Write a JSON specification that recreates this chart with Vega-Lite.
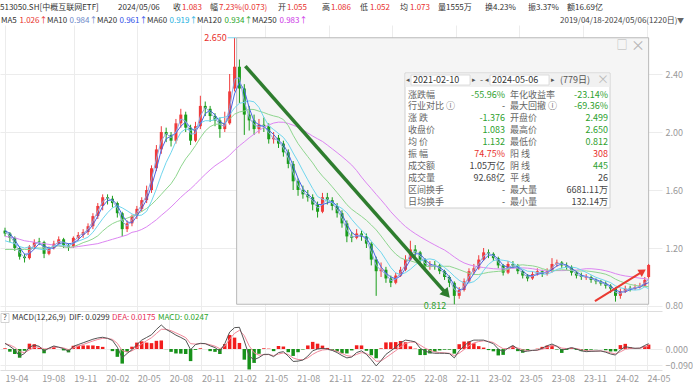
{
"$schema": "https://vega.github.io/schema/vega-lite/v6.json",
"padding": 0,
"autosize": {"type": "pad"},
"background": "white",
"spacing": 0,
"config": {
  "view": {"stroke": null},
  "font": "Noto Sans CJK SC",
  "concat": {"spacing": 0},
  "axis": {"labelFont": "Noto Sans CJK SC", "labelFontSize": 9, "labelColor": "#9a9a9a", "gridColor": "#ececec", "domain": false, "ticks": false, "title": null}
},
"datasets": {
  "k": [
{"d":"2019-04-18","o":1.32,"h":1.34,"l":1.28,"c":1.30,"m10":1.31,"m20":1.32,"m60":1.25,"m120":1.19,"m250":1.28,"dif":0.032,"dea":0.030,"macd":0.004},
{"d":"2019-05-02","o":1.30,"h":1.31,"l":1.24,"c":1.27,"m10":1.285,"m20":1.30,"m60":1.24,"m120":1.19,"m250":1.275,"dif":0.015,"dea":0.0225,"macd":-0.015},
{"d":"2019-05-16","o":1.27,"h":1.28,"l":1.18,"c":1.20,"m10":1.235,"m20":1.257,"m60":1.23,"m120":1.19,"m250":1.27,"dif":-0.005,"dea":0.009,"macd":-0.028},
{"d":"2019-05-30","o":1.20,"h":1.21,"l":1.12,"c":1.14,"m10":1.17,"m20":1.203,"m60":1.21,"m120":1.19,"m250":1.26,"dif":-0.040,"dea":-0.0155,"macd":-0.049},
{"d":"2019-06-13","o":1.14,"h":1.16,"l":1.10,"c":1.13,"m10":1.135,"m20":1.157,"m60":1.20,"m120":1.19,"m250":1.25,"dif":-0.025,"dea":-0.020,"macd":-0.010},
{"d":"2019-06-27","o":1.13,"h":1.22,"l":1.12,"c":1.21,"m10":1.17,"m20":1.16,"m60":1.208,"m120":1.19,"m250":1.245,"dif":0.010,"dea":-0.005,"macd":0.030},
{"d":"2019-07-11","o":1.21,"h":1.26,"l":1.19,"c":1.24,"m10":1.225,"m20":1.193,"m60":1.198,"m120":1.20,"m250":1.24,"dif":0.022,"dea":0.0085,"macd":0.027},
{"d":"2019-07-25","o":1.245,"h":1.27,"l":1.22,"c":1.24,"m10":1.24,"m20":1.23,"m60":1.193,"m120":1.20,"m250":1.235,"dif":0.015,"dea":0.012,"macd":0.006},
{"d":"2019-08-08","o":1.24,"h":1.25,"l":1.13,"c":1.16,"m10":1.20,"m20":1.213,"m60":1.187,"m120":1.20,"m250":1.23,"dif":-0.012,"dea":0.000,"macd":-0.024},
{"d":"2019-08-22","o":1.16,"h":1.21,"l":1.15,"c":1.20,"m10":1.18,"m20":1.20,"m60":1.197,"m120":1.20,"m250":1.225,"dif":0.005,"dea":0.0025,"macd":0.005},
{"d":"2019-09-05","o":1.20,"h":1.25,"l":1.19,"c":1.23,"m10":1.215,"m20":1.197,"m60":1.213,"m120":1.21,"m250":1.22,"dif":0.017,"dea":0.010,"macd":0.014},
{"d":"2019-09-19","o":1.23,"h":1.28,"l":1.22,"c":1.26,"m10":1.245,"m20":1.23,"m60":1.222,"m120":1.215,"m250":1.215,"dif":0.010,"dea":0.010,"macd":0.000},
{"d":"2019-10-03","o":1.26,"h":1.27,"l":1.20,"c":1.22,"m10":1.24,"m20":1.237,"m60":1.218,"m120":1.208,"m250":1.21,"dif":0.002,"dea":0.006,"macd":-0.008},
{"d":"2019-10-17","o":1.22,"h":1.23,"l":1.18,"c":1.21,"m10":1.215,"m20":1.23,"m60":1.213,"m120":1.203,"m250":1.205,"dif":-0.013,"dea":-0.0035,"macd":-0.019},
{"d":"2019-10-31","o":1.21,"h":1.28,"l":1.20,"c":1.27,"m10":1.24,"m20":1.233,"m60":1.232,"m120":1.209,"m250":1.205,"dif":0.015,"dea":0.006,"macd":0.018},
{"d":"2019-11-14","o":1.27,"h":1.31,"l":1.25,"c":1.29,"m10":1.28,"m20":1.257,"m60":1.247,"m120":1.222,"m250":1.21,"dif":0.025,"dea":0.0155,"macd":0.019},
{"d":"2019-11-28","o":1.29,"h":1.33,"l":1.27,"c":1.31,"m10":1.30,"m20":1.29,"m60":1.26,"m120":1.237,"m250":1.215,"dif":0.035,"dea":0.025,"macd":0.020},
{"d":"2019-12-12","o":1.31,"h":1.37,"l":1.29,"c":1.35,"m10":1.33,"m20":1.317,"m60":1.275,"m120":1.248,"m250":1.22,"dif":0.045,"dea":0.035,"macd":0.020},
{"d":"2019-12-26","o":1.35,"h":1.44,"l":1.33,"c":1.42,"m10":1.385,"m20":1.36,"m60":1.308,"m120":1.263,"m250":1.225,"dif":0.055,"dea":0.045,"macd":0.020},
{"d":"2020-01-09","o":1.42,"h":1.51,"l":1.40,"c":1.49,"m10":1.455,"m20":1.42,"m60":1.355,"m120":1.284,"m250":1.23,"dif":0.062,"dea":0.0535,"macd":0.017},
{"d":"2020-01-23","o":1.49,"h":1.57,"l":1.46,"c":1.55,"m10":1.52,"m20":1.487,"m60":1.402,"m120":1.317,"m250":1.24,"dif":0.066,"dea":0.060,"macd":0.012},
{"d":"2020-02-06","o":1.55,"h":1.57,"l":1.50,"c":1.54,"m10":1.545,"m20":1.527,"m60":1.443,"m120":1.345,"m250":1.25,"dif":0.060,"dea":0.060,"macd":0.000},
{"d":"2020-02-20","o":1.54,"h":1.56,"l":1.48,"c":1.51,"m10":1.525,"m20":1.533,"m60":1.477,"m120":1.368,"m250":1.26,"dif":0.048,"dea":0.054,"macd":-0.012},
{"d":"2020-03-05","o":1.51,"h":1.52,"l":1.41,"c":1.44,"m10":1.475,"m20":1.497,"m60":1.492,"m120":1.383,"m250":1.27,"dif":0.010,"dea":0.032,"macd":-0.044},
{"d":"2020-03-19","o":1.44,"h":1.45,"l":1.28,"c":1.33,"m10":1.385,"m20":1.427,"m60":1.477,"m120":1.393,"m250":1.28,"dif":-0.050,"dea":-0.009,"macd":-0.082},
{"d":"2020-04-02","o":1.33,"h":1.39,"l":1.31,"c":1.37,"m10":1.35,"m20":1.38,"m60":1.457,"m120":1.406,"m250":1.29,"dif":-0.025,"dea":-0.017,"macd":-0.016},
{"d":"2020-04-16","o":1.37,"h":1.43,"l":1.35,"c":1.42,"m10":1.395,"m20":1.373,"m60":1.435,"m120":1.418,"m250":1.308,"dif":-0.004,"dea":-0.0105,"macd":0.013},
{"d":"2020-04-30","o":1.42,"h":1.49,"l":1.40,"c":1.47,"m10":1.445,"m20":1.42,"m60":1.423,"m120":1.433,"m250":1.315,"dif":0.025,"dea":0.007,"macd":0.036},
{"d":"2020-05-14","o":1.47,"h":1.55,"l":1.45,"c":1.53,"m10":1.50,"m20":1.473,"m60":1.427,"m120":1.452,"m250":1.328,"dif":0.050,"dea":0.0285,"macd":0.043},
{"d":"2020-05-28","o":1.53,"h":1.63,"l":1.51,"c":1.60,"m10":1.565,"m20":1.533,"m60":1.453,"m120":1.473,"m250":1.346,"dif":0.065,"dea":0.047,"macd":0.036},
{"d":"2020-06-11","o":1.60,"h":1.77,"l":1.58,"c":1.75,"m10":1.675,"m20":1.627,"m60":1.523,"m120":1.50,"m250":1.37,"dif":0.080,"dea":0.0635,"macd":0.033},
{"d":"2020-06-25","o":1.75,"h":1.91,"l":1.73,"c":1.88,"m10":1.815,"m20":1.743,"m60":1.608,"m120":1.533,"m250":1.395,"dif":0.110,"dea":0.087,"macd":0.046},
{"d":"2020-07-09","o":1.88,"h":2.04,"l":1.85,"c":2.00,"m10":1.94,"m20":1.877,"m60":1.705,"m120":1.57,"m250":1.425,"dif":0.135,"dea":0.111,"macd":0.048},
{"d":"2020-07-23","o":2.00,"h":2.03,"l":1.93,"c":1.98,"m10":1.99,"m20":1.953,"m60":1.79,"m120":1.607,"m250":1.453,"dif":0.110,"dea":0.1105,"macd":-0.001},
{"d":"2020-08-06","o":1.98,"h":2.00,"l":1.90,"c":1.94,"m10":1.96,"m20":1.973,"m60":1.858,"m120":1.643,"m250":1.483,"dif":0.095,"dea":0.103,"macd":-0.016},
{"d":"2020-08-20","o":1.94,"h":2.09,"l":1.92,"c":2.06,"m10":2.00,"m20":1.993,"m60":1.935,"m120":1.694,"m250":1.516,"dif":0.078,"dea":0.0905,"macd":-0.025},
{"d":"2020-09-03","o":2.06,"h":2.16,"l":2.03,"c":2.12,"m10":2.09,"m20":2.04,"m60":1.997,"m120":1.76,"m250":1.55,"dif":0.065,"dea":0.078,"macd":-0.026},
{"d":"2020-09-17","o":2.12,"h":2.14,"l":2.00,"c":2.03,"m10":2.075,"m20":2.07,"m60":2.022,"m120":1.815,"m250":1.58,"dif":0.050,"dea":0.064,"macd":-0.028},
{"d":"2020-10-01","o":2.03,"h":2.05,"l":1.91,"c":1.94,"m10":1.985,"m20":2.03,"m60":2.012,"m120":1.858,"m250":1.608,"dif":-0.004,"dea":0.030,"macd":-0.068},
{"d":"2020-10-15","o":1.94,"h":2.07,"l":1.93,"c":2.04,"m10":1.99,"m20":2.003,"m60":2.022,"m120":1.906,"m250":1.64,"dif":0.025,"dea":0.0275,"macd":-0.005},
{"d":"2020-10-29","o":2.04,"h":2.25,"l":2.02,"c":2.18,"m10":2.11,"m20":2.053,"m60":2.062,"m120":1.96,"m250":1.675,"dif":0.032,"dea":0.030,"macd":0.004},
{"d":"2020-11-12","o":2.18,"h":2.21,"l":2.11,"c":2.16,"m10":2.17,"m20":2.127,"m60":2.078,"m120":2.007,"m250":1.708,"dif":0.030,"dea":0.030,"macd":0.000},
{"d":"2020-11-26","o":2.16,"h":2.18,"l":2.07,"c":2.11,"m10":2.135,"m20":2.15,"m60":2.077,"m120":2.037,"m250":1.739,"dif":0.018,"dea":0.024,"macd":-0.012},
{"d":"2020-12-10","o":2.11,"h":2.13,"l":2.04,"c":2.08,"m10":2.095,"m20":2.117,"m60":2.085,"m120":2.053,"m250":1.767,"dif":0.008,"dea":0.016,"macd":-0.016},
{"d":"2020-12-24","o":2.08,"h":2.10,"l":1.96,"c":2.02,"m10":2.05,"m20":2.07,"m60":2.098,"m120":2.055,"m250":1.79,"dif":-0.012,"dea":0.002,"macd":-0.028},
{"d":"2021-01-07","o":2.02,"h":2.14,"l":2.00,"c":2.06,"m10":2.04,"m20":2.053,"m60":2.102,"m120":2.062,"m250":1.812,"dif":0.030,"dea":0.016,"macd":0.028},
{"d":"2021-01-21","o":2.06,"h":2.40,"l":2.05,"c":2.28,"m10":2.17,"m20":2.12,"m60":2.118,"m120":2.09,"m250":1.84,"dif":0.095,"dea":0.0555,"macd":0.079},
{"d":"2021-02-04","o":2.30,"h":2.65,"l":2.28,"c":2.45,"m10":2.365,"m20":2.263,"m60":2.167,"m120":2.123,"m250":1.875,"dif":0.120,"dea":0.088,"macd":0.064},
{"d":"2021-02-18","o":2.45,"h":2.50,"l":2.20,"c":2.30,"m10":2.375,"m20":2.343,"m60":2.198,"m120":2.138,"m250":1.905,"dif":0.122,"dea":0.105,"macd":0.034},
{"d":"2021-03-04","o":2.30,"h":2.33,"l":1.98,"c":2.12,"m10":2.21,"m20":2.29,"m60":2.205,"m120":2.145,"m250":1.932,"dif":0.045,"dea":0.075,"macd":-0.060},
{"d":"2021-03-18","o":2.12,"h":2.18,"l":2.01,"c":2.08,"m10":2.10,"m20":2.167,"m60":2.215,"m120":2.157,"m250":1.96,"dif":-0.040,"dea":0.0175,"macd":-0.115},
{"d":"2021-04-01","o":2.08,"h":2.12,"l":1.98,"c":2.02,"m10":2.05,"m20":2.073,"m60":2.208,"m120":2.155,"m250":1.985,"dif":-0.060,"dea":-0.021,"macd":-0.078},
{"d":"2021-04-15","o":2.02,"h":2.09,"l":1.99,"c":2.05,"m10":2.035,"m20":2.05,"m60":2.17,"m120":2.144,"m250":2.01,"dif":-0.048,"dea":-0.0345,"macd":-0.027},
{"d":"2021-04-29","o":2.05,"h":2.10,"l":2.00,"c":2.04,"m10":2.045,"m20":2.037,"m60":2.102,"m120":2.134,"m250":2.032,"dif":-0.030,"dea":-0.032,"macd":0.004},
{"d":"2021-05-13","o":2.04,"h":2.06,"l":1.92,"c":1.95,"m10":1.995,"m20":2.013,"m60":2.043,"m120":2.121,"m250":2.048,"dif":-0.030,"dea":-0.031,"macd":0.002},
{"d":"2021-05-27","o":1.95,"h":2.00,"l":1.92,"c":1.96,"m10":1.955,"m20":1.983,"m60":2.017,"m120":2.111,"m250":2.062,"dif":-0.043,"dea":-0.037,"macd":-0.012},
{"d":"2021-06-10","o":1.96,"h":1.98,"l":1.89,"c":1.92,"m10":1.94,"m20":1.943,"m60":1.99,"m120":2.103,"m250":2.068,"dif":-0.020,"dea":-0.0285,"macd":0.017},
{"d":"2021-06-24","o":1.92,"h":1.94,"l":1.83,"c":1.86,"m10":1.89,"m20":1.913,"m60":1.963,"m120":2.086,"m250":2.067,"dif":-0.015,"dea":-0.022,"macd":0.014},
{"d":"2021-07-08","o":1.86,"h":1.88,"l":1.75,"c":1.78,"m10":1.82,"m20":1.853,"m60":1.918,"m120":2.044,"m250":2.059,"dif":-0.040,"dea":-0.031,"macd":-0.018},
{"d":"2021-07-22","o":1.78,"h":1.80,"l":1.60,"c":1.66,"m10":1.72,"m20":1.767,"m60":1.855,"m120":1.978,"m250":2.047,"dif":-0.070,"dea":-0.0505,"macd":-0.039},
{"d":"2021-08-05","o":1.66,"h":1.68,"l":1.56,"c":1.60,"m10":1.63,"m20":1.68,"m60":1.797,"m120":1.92,"m250":2.033,"dif":-0.068,"dea":-0.059,"macd":-0.018},
{"d":"2021-08-19","o":1.60,"h":1.63,"l":1.54,"c":1.57,"m10":1.585,"m20":1.61,"m60":1.732,"m120":1.874,"m250":2.015,"dif":-0.062,"dea":-0.0605,"macd":-0.003},
{"d":"2021-09-02","o":1.57,"h":1.60,"l":1.52,"c":1.55,"m10":1.56,"m20":1.573,"m60":1.67,"m120":1.83,"m250":1.993,"dif":-0.040,"dea":-0.050,"macd":0.020},
{"d":"2021-09-16","o":1.55,"h":1.57,"l":1.46,"c":1.50,"m10":1.525,"m20":1.54,"m60":1.61,"m120":1.787,"m250":1.972,"dif":-0.010,"dea":-0.030,"macd":0.040},
{"d":"2021-09-30","o":1.50,"h":1.52,"l":1.41,"c":1.45,"m10":1.475,"m20":1.50,"m60":1.555,"m120":1.737,"m250":1.953,"dif":0.000,"dea":-0.015,"macd":0.030},
{"d":"2021-10-14","o":1.45,"h":1.58,"l":1.44,"c":1.55,"m10":1.50,"m20":1.50,"m60":1.537,"m120":1.696,"m250":1.935,"dif":0.004,"dea":-0.0055,"macd":0.019},
{"d":"2021-10-28","o":1.55,"h":1.58,"l":1.50,"c":1.53,"m10":1.54,"m20":1.51,"m60":1.525,"m120":1.661,"m250":1.91,"dif":0.000,"dea":-0.003,"macd":0.006},
{"d":"2021-11-11","o":1.53,"h":1.55,"l":1.46,"c":1.49,"m10":1.51,"m20":1.523,"m60":1.512,"m120":1.622,"m250":1.884,"dif":-0.008,"dea":-0.0055,"macd":-0.005},
{"d":"2021-11-25","o":1.49,"h":1.51,"l":1.41,"c":1.44,"m10":1.465,"m20":1.487,"m60":1.493,"m120":1.582,"m250":1.858,"dif":-0.020,"dea":-0.013,"macd":-0.014},
{"d":"2021-12-09","o":1.44,"h":1.46,"l":1.34,"c":1.37,"m10":1.405,"m20":1.433,"m60":1.472,"m120":1.541,"m250":1.831,"dif":-0.037,"dea":-0.025,"macd":-0.024},
{"d":"2021-12-23","o":1.37,"h":1.39,"l":1.24,"c":1.28,"m10":1.325,"m20":1.363,"m60":1.443,"m120":1.499,"m250":1.802,"dif":-0.050,"dea":-0.0375,"macd":-0.025},
{"d":"2022-01-06","o":1.28,"h":1.31,"l":1.24,"c":1.27,"m10":1.275,"m20":1.307,"m60":1.397,"m120":1.467,"m250":1.772,"dif":-0.045,"dea":-0.041,"macd":-0.008},
{"d":"2022-01-20","o":1.27,"h":1.33,"l":1.26,"c":1.30,"m10":1.285,"m20":1.283,"m60":1.358,"m120":1.442,"m250":1.734,"dif":-0.020,"dea":-0.0305,"macd":0.021},
{"d":"2022-02-03","o":1.30,"h":1.32,"l":1.25,"c":1.28,"m10":1.29,"m20":1.283,"m60":1.323,"m120":1.418,"m250":1.689,"dif":-0.010,"dea":-0.020,"macd":0.020},
{"d":"2022-02-17","o":1.28,"h":1.30,"l":1.20,"c":1.23,"m10":1.255,"m20":1.27,"m60":1.288,"m120":1.391,"m250":1.648,"dif":-0.030,"dea":-0.025,"macd":-0.010},
{"d":"2022-03-03","o":1.23,"h":1.24,"l":1.08,"c":1.12,"m10":1.175,"m20":1.21,"m60":1.247,"m120":1.359,"m250":1.61,"dif":-0.060,"dea":-0.0425,"macd":-0.035},
{"d":"2022-03-17","o":1.12,"h":1.14,"l":0.87,"c":1.04,"m10":1.08,"m20":1.13,"m60":1.207,"m120":1.325,"m250":1.57,"dif":-0.095,"dea":-0.069,"macd":-0.052},
{"d":"2022-03-31","o":1.04,"h":1.10,"l":1.00,"c":1.05,"m10":1.045,"m20":1.07,"m60":1.17,"m120":1.283,"m250":1.532,"dif":-0.065,"dea":-0.067,"macd":0.004},
{"d":"2022-04-14","o":1.05,"h":1.07,"l":0.96,"c":0.99,"m10":1.02,"m20":1.027,"m60":1.118,"m120":1.238,"m250":1.492,"dif":-0.030,"dea":-0.0485,"macd":0.037},
{"d":"2022-04-28","o":0.99,"h":1.01,"l":0.93,"c":0.96,"m10":0.975,"m20":1.00,"m60":1.065,"m120":1.194,"m250":1.45,"dif":-0.010,"dea":-0.029,"macd":0.038},
{"d":"2022-05-12","o":0.96,"h":1.03,"l":0.95,"c":1.01,"m10":0.985,"m20":0.987,"m60":1.028,"m120":1.158,"m250":1.414,"dif":0.010,"dea":-0.0095,"macd":0.039},
{"d":"2022-05-26","o":1.01,"h":1.07,"l":1.00,"c":1.05,"m10":1.03,"m20":1.007,"m60":1.017,"m120":1.132,"m250":1.379,"dif":0.035,"dea":0.0127,"macd":0.045},
{"d":"2022-06-09","o":1.05,"h":1.15,"l":1.04,"c":1.12,"m10":1.085,"m20":1.06,"m60":1.03,"m120":1.118,"m250":1.348,"dif":0.050,"dea":0.031,"macd":0.038},
{"d":"2022-06-23","o":1.12,"h":1.25,"l":1.11,"c":1.19,"m10":1.155,"m20":1.12,"m60":1.053,"m120":1.112,"m250":1.322,"dif":0.046,"dea":0.0385,"macd":0.015},
{"d":"2022-07-07","o":1.19,"h":1.22,"l":1.14,"c":1.17,"m10":1.18,"m20":1.16,"m60":1.083,"m120":1.101,"m250":1.299,"dif":0.040,"dea":0.039,"macd":0.002},
{"d":"2022-07-21","o":1.17,"h":1.18,"l":1.09,"c":1.12,"m10":1.145,"m20":1.16,"m60":1.11,"m120":1.088,"m250":1.278,"dif":0.005,"dea":0.022,"macd":-0.034},
{"d":"2022-08-04","o":1.12,"h":1.13,"l":1.04,"c":1.07,"m10":1.095,"m20":1.12,"m60":1.12,"m120":1.074,"m250":1.258,"dif":-0.012,"dea":0.005,"macd":-0.034},
{"d":"2022-08-18","o":1.07,"h":1.11,"l":1.05,"c":1.08,"m10":1.075,"m20":1.09,"m60":1.125,"m120":1.071,"m250":1.239,"dif":-0.020,"dea":-0.0075,"macd":-0.025},
{"d":"2022-09-01","o":1.085,"h":1.11,"l":1.05,"c":1.08,"m10":1.08,"m20":1.077,"m60":1.118,"m120":1.074,"m250":1.221,"dif":-0.024,"dea":-0.016,"macd":-0.016},
{"d":"2022-09-15","o":1.08,"h":1.09,"l":1.02,"c":1.04,"m10":1.06,"m20":1.067,"m60":1.093,"m120":1.073,"m250":1.203,"dif":-0.024,"dea":-0.020,"macd":-0.008},
{"d":"2022-09-29","o":1.04,"h":1.05,"l":0.98,"c":1.00,"m10":1.02,"m20":1.04,"m60":1.065,"m120":1.074,"m250":1.186,"dif":-0.024,"dea":-0.022,"macd":-0.004},
{"d":"2022-10-13","o":1.00,"h":1.01,"l":0.93,"c":0.96,"m10":0.98,"m20":1.00,"m60":1.038,"m120":1.074,"m250":1.163,"dif":-0.026,"dea":-0.024,"macd":-0.004},
{"d":"2022-10-27","o":0.96,"h":0.97,"l":0.812,"c":0.87,"m10":0.915,"m20":0.943,"m60":1.005,"m120":1.063,"m250":1.138,"dif":-0.050,"dea":-0.037,"macd":-0.026},
{"d":"2022-11-10","o":0.87,"h":0.93,"l":0.85,"c":0.91,"m10":0.89,"m20":0.913,"m60":0.977,"m120":1.051,"m250":1.115,"dif":-0.010,"dea":-0.0235,"macd":0.027},
{"d":"2022-11-24","o":0.91,"h":0.99,"l":0.90,"c":0.97,"m10":0.94,"m20":0.917,"m60":0.958,"m120":1.038,"m250":1.097,"dif":0.018,"dea":-0.003,"macd":0.042},
{"d":"2022-12-08","o":0.97,"h":1.06,"l":0.96,"c":1.04,"m10":1.005,"m20":0.973,"m60":0.958,"m120":1.026,"m250":1.085,"dif":0.040,"dea":0.0185,"macd":0.043},
{"d":"2022-12-22","o":1.04,"h":1.09,"l":1.02,"c":1.06,"m10":1.05,"m20":1.023,"m60":0.968,"m120":1.017,"m250":1.076,"dif":0.050,"dea":0.034,"macd":0.032},
{"d":"2023-01-05","o":1.06,"h":1.15,"l":1.05,"c":1.12,"m10":1.09,"m20":1.073,"m60":0.995,"m120":1.017,"m250":1.07,"dif":0.050,"dea":0.042,"macd":0.016},
{"d":"2023-01-19","o":1.12,"h":1.20,"l":1.11,"c":1.17,"m10":1.145,"m20":1.117,"m60":1.045,"m120":1.025,"m250":1.065,"dif":0.050,"dea":0.046,"macd":0.008},
{"d":"2023-02-02","o":1.17,"h":1.19,"l":1.13,"c":1.16,"m10":1.165,"m20":1.15,"m60":1.087,"m120":1.032,"m250":1.061,"dif":0.040,"dea":0.043,"macd":-0.006},
{"d":"2023-02-16","o":1.16,"h":1.17,"l":1.11,"c":1.13,"m10":1.145,"m20":1.153,"m60":1.113,"m120":1.036,"m250":1.057,"dif":0.030,"dea":0.0365,"macd":-0.013},
{"d":"2023-03-02","o":1.13,"h":1.14,"l":1.06,"c":1.08,"m10":1.105,"m20":1.123,"m60":1.12,"m120":1.039,"m250":1.055,"dif":0.000,"dea":0.018,"macd":-0.036},
{"d":"2023-03-16","o":1.08,"h":1.09,"l":1.01,"c":1.03,"m10":1.055,"m20":1.08,"m60":1.115,"m120":1.042,"m250":1.055,"dif":-0.015,"dea":0.0015,"macd":-0.033},
{"d":"2023-03-30","o":1.03,"h":1.11,"l":1.02,"c":1.09,"m10":1.06,"m20":1.067,"m60":1.11,"m120":1.053,"m250":1.057,"dif":0.005,"dea":0.003,"macd":0.004},
{"d":"2023-04-13","o":1.09,"h":1.11,"l":1.06,"c":1.08,"m10":1.085,"m20":1.067,"m60":1.095,"m120":1.07,"m250":1.06,"dif":0.020,"dea":0.0115,"macd":0.017},
{"d":"2023-04-27","o":1.08,"h":1.09,"l":1.02,"c":1.04,"m10":1.06,"m20":1.07,"m60":1.075,"m120":1.081,"m250":1.063,"dif":0.000,"dea":0.006,"macd":-0.012},
{"d":"2023-05-11","o":1.04,"h":1.05,"l":0.99,"c":1.01,"m10":1.025,"m20":1.043,"m60":1.055,"m120":1.084,"m250":1.063,"dif":-0.015,"dea":-0.0045,"macd":-0.021},
{"d":"2023-05-25","o":1.01,"h":1.02,"l":0.97,"c":0.99,"m10":1.00,"m20":1.013,"m60":1.04,"m120":1.08,"m250":1.061,"dif":-0.012,"dea":-0.008,"macd":-0.008},
{"d":"2023-06-08","o":0.99,"h":1.04,"l":0.98,"c":1.02,"m10":1.005,"m20":1.007,"m60":1.038,"m120":1.077,"m250":1.057,"dif":-0.008,"dea":-0.008,"macd":0.000},
{"d":"2023-06-22","o":1.02,"h":1.06,"l":1.01,"c":1.04,"m10":1.03,"m20":1.017,"m60":1.03,"m120":1.07,"m250":1.051,"dif":-0.006,"dea":-0.007,"macd":0.002},
{"d":"2023-07-06","o":1.04,"h":1.05,"l":1.00,"c":1.02,"m10":1.03,"m20":1.027,"m60":1.02,"m120":1.058,"m250":1.045,"dif":0.005,"dea":-0.001,"macd":0.012},
{"d":"2023-07-20","o":1.02,"h":1.06,"l":1.01,"c":1.04,"m10":1.03,"m20":1.033,"m60":1.02,"m120":1.048,"m250":1.042,"dif":0.018,"dea":0.0085,"macd":0.019},
{"d":"2023-08-03","o":1.04,"h":1.13,"l":1.03,"c":1.09,"m10":1.065,"m20":1.05,"m60":1.033,"m120":1.044,"m250":1.043,"dif":0.028,"dea":0.018,"macd":0.020},
{"d":"2023-08-17","o":1.09,"h":1.12,"l":1.07,"c":1.10,"m10":1.095,"m20":1.077,"m60":1.052,"m120":1.046,"m250":1.044,"dif":0.015,"dea":0.0165,"macd":-0.003},
{"d":"2023-08-31","o":1.10,"h":1.11,"l":1.06,"c":1.08,"m10":1.09,"m20":1.09,"m60":1.062,"m120":1.05,"m250":1.044,"dif":-0.006,"dea":0.005,"macd":-0.022},
{"d":"2023-09-14","o":1.08,"h":1.10,"l":1.05,"c":1.07,"m10":1.075,"m20":1.083,"m60":1.067,"m120":1.048,"m250":1.045,"dif":0.000,"dea":0.0025,"macd":-0.005},
{"d":"2023-09-28","o":1.07,"h":1.08,"l":1.01,"c":1.03,"m10":1.05,"m20":1.06,"m60":1.068,"m120":1.044,"m250":1.046,"dif":0.008,"dea":0.005,"macd":0.006},
{"d":"2023-10-12","o":1.03,"h":1.04,"l":0.99,"c":1.01,"m10":1.02,"m20":1.037,"m60":1.063,"m120":1.042,"m250":1.048,"dif":0.000,"dea":0.0025,"macd":-0.005},
{"d":"2023-10-26","o":1.01,"h":1.03,"l":0.98,"c":1.00,"m10":1.005,"m20":1.013,"m60":1.048,"m120":1.041,"m250":1.053,"dif":-0.010,"dea":-0.004,"macd":-0.012},
{"d":"2023-11-09","o":0.995,"h":1.02,"l":0.98,"c":1.00,"m10":1.00,"m20":1.003,"m60":1.032,"m120":1.042,"m250":1.057,"dif":-0.015,"dea":-0.0095,"macd":-0.011},
{"d":"2023-11-23","o":1.00,"h":1.01,"l":0.96,"c":0.98,"m10":0.99,"m20":0.993,"m60":1.015,"m120":1.038,"m250":1.057,"dif":-0.013,"dea":-0.011,"macd":-0.004},
{"d":"2023-12-07","o":0.98,"h":0.99,"l":0.95,"c":0.97,"m10":0.975,"m20":0.983,"m60":0.998,"m120":1.033,"m250":1.054,"dif":-0.012,"dea":-0.0115,"macd":-0.001},
{"d":"2023-12-21","o":0.97,"h":0.98,"l":0.94,"c":0.955,"m10":0.963,"m20":0.968,"m60":0.986,"m120":1.027,"m250":1.05,"dif":-0.011,"dea":-0.011,"macd":0.000},
{"d":"2024-01-04","o":0.955,"h":0.97,"l":0.92,"c":0.94,"m10":0.948,"m20":0.955,"m60":0.974,"m120":1.019,"m250":1.043,"dif":-0.018,"dea":-0.0145,"macd":-0.007},
{"d":"2024-01-18","o":0.94,"h":0.95,"l":0.89,"c":0.92,"m10":0.93,"m20":0.938,"m60":0.961,"m120":1.005,"m250":1.034,"dif":-0.028,"dea":-0.021,"macd":-0.014},
{"d":"2024-02-01","o":0.92,"h":0.93,"l":0.83,"c":0.87,"m10":0.895,"m20":0.91,"m60":0.939,"m120":0.985,"m250":1.023,"dif":-0.034,"dea":-0.0275,"macd":-0.013},
{"d":"2024-02-15","o":0.87,"h":0.92,"l":0.85,"c":0.90,"m10":0.885,"m20":0.897,"m60":0.926,"m120":0.97,"m250":1.014,"dif":-0.005,"dea":-0.016,"macd":0.022},
{"d":"2024-02-29","o":0.90,"h":0.94,"l":0.89,"c":0.92,"m10":0.91,"m20":0.897,"m60":0.918,"m120":0.958,"m250":1.007,"dif":0.013,"dea":-0.0015,"macd":0.029},
{"d":"2024-03-14","o":0.925,"h":0.94,"l":0.90,"c":0.92,"m10":0.92,"m20":0.913,"m60":0.912,"m120":0.949,"m250":1.003,"dif":0.008,"dea":0.003,"macd":0.010},
{"d":"2024-03-28","o":0.92,"h":0.95,"l":0.91,"c":0.93,"m10":0.925,"m20":0.923,"m60":0.91,"m120":0.942,"m250":0.997,"dif":0.004,"dea":0.0035,"macd":0.001},
{"d":"2024-04-11","o":0.93,"h":0.96,"l":0.92,"c":0.94,"m10":0.935,"m20":0.93,"m60":0.913,"m120":0.937,"m250":0.992,"dif":0.005,"dea":0.0043,"macd":0.001},
{"d":"2024-04-25","o":0.94,"h":1.00,"l":0.93,"c":0.98,"m10":0.96,"m20":0.95,"m60":0.932,"m120":0.935,"m250":0.989,"dif":0.020,"dea":0.012,"macd":0.016},
{"d":"2024-05-06","o":1.00,"h":1.09,"l":0.99,"c":1.083,"m10":0.984,"m20":0.961,"m60":0.919,"m120":0.934,"m250":0.983,"dif":0.0299,"dea":0.0175,"macd":0.0247}
  ],
  "box": [{"d":"2021-02-10","d2":"2024-05-06","lo":0.812,"hi":2.65}],
  "ga": [{"d":"2021-03-07","p":2.455,"d2":"2022-10-02","p2":0.89}],
  "ra": [{"d":"2023-12-04","p":0.834,"d2":"2024-04-16","p2":1.034}],
  "peak": [{"d":"2021-02-10","p":2.65,"t":"2.650"}],
  "low": [{"d":"2022-10-27","p":0.812,"t":"0.812"}]
},
"vconcat": [
{
  "width": 662, "height": 24,
  "data": {"values": [{}]},
  "layer": [
    {"mark": {"type":"text","text":"513050.SH[中概互联网ETF]","x":0,"y":7.5,"align":"left","baseline":"middle","fontSize":8,"color":"#333333"}},
    {"mark": {"type":"text","text":"2024/05/06","x":118,"y":7.5,"align":"left","baseline":"middle","fontSize":8,"color":"#333333"}},
    {"mark": {"type":"text","text":"收","x":173,"y":7.5,"align":"left","baseline":"middle","fontSize":8,"color":"#333333"}},
    {"mark": {"type":"text","text":"1.083","x":182,"y":7.5,"align":"left","baseline":"middle","fontSize":8,"color":"#e8302c"}},
    {"mark": {"type":"text","text":"幅","x":210,"y":7.5,"align":"left","baseline":"middle","fontSize":8,"color":"#333333"}},
    {"mark": {"type":"text","text":"7.23%(0.073)","x":219,"y":7.5,"align":"left","baseline":"middle","fontSize":8,"color":"#e8302c"}},
    {"mark": {"type":"text","text":"开","x":278,"y":7.5,"align":"left","baseline":"middle","fontSize":8,"color":"#333333"}},
    {"mark": {"type":"text","text":"1.055","x":287,"y":7.5,"align":"left","baseline":"middle","fontSize":8,"color":"#e8302c"}},
    {"mark": {"type":"text","text":"高","x":322,"y":7.5,"align":"left","baseline":"middle","fontSize":8,"color":"#333333"}},
    {"mark": {"type":"text","text":"1.086","x":331,"y":7.5,"align":"left","baseline":"middle","fontSize":8,"color":"#e8302c"}},
    {"mark": {"type":"text","text":"低","x":360,"y":7.5,"align":"left","baseline":"middle","fontSize":8,"color":"#333333"}},
    {"mark": {"type":"text","text":"1.052","x":370,"y":7.5,"align":"left","baseline":"middle","fontSize":8,"color":"#e8302c"}},
    {"mark": {"type":"text","text":"均","x":400,"y":7.5,"align":"left","baseline":"middle","fontSize":8,"color":"#333333"}},
    {"mark": {"type":"text","text":"1.073","x":410,"y":7.5,"align":"left","baseline":"middle","fontSize":8,"color":"#e8302c"}},
    {"mark": {"type":"text","text":"量1555万","x":438,"y":7.5,"align":"left","baseline":"middle","fontSize":8,"color":"#333333"}},
    {"mark": {"type":"text","text":"换4.23%","x":485,"y":7.5,"align":"left","baseline":"middle","fontSize":8,"color":"#333333"}},
    {"mark": {"type":"text","text":"振3.37%","x":528,"y":7.5,"align":"left","baseline":"middle","fontSize":8,"color":"#333333"}},
    {"mark": {"type":"text","text":"额16.69亿","x":567,"y":7.5,"align":"left","baseline":"middle","fontSize":8,"color":"#333333"}},
    {"mark": {"type":"text","text":"MA5","x":1,"y":20.5,"align":"left","baseline":"middle","fontSize":8,"color":"#333333"}},
    {"mark": {"type":"text","text":"1.026↑","x":19.5,"y":20.5,"align":"left","baseline":"middle","fontSize":8,"color":"#e8302c"}},
    {"mark": {"type":"text","text":"MA10","x":47,"y":20.5,"align":"left","baseline":"middle","fontSize":8,"color":"#333333"}},
    {"mark": {"type":"text","text":"0.984↑","x":69.5,"y":20.5,"align":"left","baseline":"middle","fontSize":8,"color":"#6a86c8"}},
    {"mark": {"type":"text","text":"MA20","x":97,"y":20.5,"align":"left","baseline":"middle","fontSize":8,"color":"#333333"}},
    {"mark": {"type":"text","text":"0.961↑","x":119.5,"y":20.5,"align":"left","baseline":"middle","fontSize":8,"color":"#2f4fe8"}},
    {"mark": {"type":"text","text":"MA60","x":147,"y":20.5,"align":"left","baseline":"middle","fontSize":8,"color":"#333333"}},
    {"mark": {"type":"text","text":"0.919↑","x":169.5,"y":20.5,"align":"left","baseline":"middle","fontSize":8,"color":"#1eb0e0"}},
    {"mark": {"type":"text","text":"MA120","x":197,"y":20.5,"align":"left","baseline":"middle","fontSize":8,"color":"#333333"}},
    {"mark": {"type":"text","text":"0.934↑","x":224.5,"y":20.5,"align":"left","baseline":"middle","fontSize":8,"color":"#2aa52a"}},
    {"mark": {"type":"text","text":"MA250","x":252,"y":20.5,"align":"left","baseline":"middle","fontSize":8,"color":"#333333"}},
    {"mark": {"type":"text","text":"0.983↑","x":279.5,"y":20.5,"align":"left","baseline":"middle","fontSize":8,"color":"#cc33e6"}},
    {"mark": {"type":"text","text":"2019/04/18-2024/05/06(1220日)","x":560,"y":20.5,"align":"left","baseline":"middle","fontSize":8,"color":"#444444"}},
    {"mark": {"type":"text","text":"▼","x":677,"y":20.5,"align":"left","baseline":"middle","fontSize":7,"color":"#666666"}}
  ]
},
{
  "width": 662, "height": 286,
  "layer": [
    {"data": {"name": "box"},
     "mark": {"type": "rect", "fill": "#f5f5f5", "stroke": "#b8b8b8", "strokeWidth": 1},
     "encoding": {
       "x": {"field": "d", "type": "temporal", "title": null,
             "scale": {"type": "utc", "domain": [{"year":2019,"month":4,"date":18,"utc":true},{"year":2024,"month":5,"date":30,"utc":true}]},
             "axis": {"title": null, "labels": false, "grid": true, "domain": true, "domainColor": "#dddddd",
                      "values": [{"year":2019,"month":4,"date":18,"utc":true},{"year":2019,"month":8,"date":1,"utc":true},{"year":2019,"month":11,"date":1,"utc":true},{"year":2020,"month":2,"date":1,"utc":true},{"year":2020,"month":5,"date":1,"utc":true},{"year":2020,"month":8,"date":1,"utc":true},{"year":2020,"month":11,"date":1,"utc":true},{"year":2021,"month":2,"date":1,"utc":true},{"year":2021,"month":5,"date":1,"utc":true},{"year":2021,"month":8,"date":1,"utc":true},{"year":2021,"month":11,"date":1,"utc":true},{"year":2022,"month":2,"date":1,"utc":true},{"year":2022,"month":5,"date":1,"utc":true},{"year":2022,"month":8,"date":1,"utc":true},{"year":2022,"month":11,"date":1,"utc":true},{"year":2023,"month":2,"date":1,"utc":true},{"year":2023,"month":5,"date":1,"utc":true},{"year":2023,"month":8,"date":1,"utc":true},{"year":2023,"month":11,"date":1,"utc":true},{"year":2024,"month":2,"date":1,"utc":true},{"year":2024,"month":5,"date":1,"utc":true}]}},
       "x2": {"field": "d2"},
       "y": {"field": "lo", "type": "quantitative", "title": null,
             "scale": {"domain": [0.7655, 2.738], "nice": false, "zero": false},
             "axis": {"title": null, "orient": "right", "values": [0.8, 1.2, 1.6, 2.0, 2.4], "format": ".2f", "grid": true, "labelPadding": 3}},
       "y2": {"field": "hi"}
     }},
    {"data": {"name": "k"},
     "mark": {"type": "rule", "strokeWidth": 1},
     "encoding": {
       "x": {"field": "d", "type": "temporal", "title": null, "scale": {"type": "utc", "domain": [{"year":2019,"month":4,"date":18,"utc":true},{"year":2024,"month":5,"date":30,"utc":true}]}},
       "y": {"field": "l", "type": "quantitative", "title": null, "scale": {"domain": [0.7655, 2.738], "nice": false, "zero": false}},
       "y2": {"field": "h"},
       "color": {"condition": {"test": "datum.c >= datum.o", "value": "#f03b3b"}, "value": "#1a9d1a"}
     }},
    {"data": {"name": "k"},
     "mark": {"type": "bar", "width": 3},
     "encoding": {
       "x": {"field": "d", "type": "temporal", "title": null, "scale": {"type": "utc", "domain": [{"year":2019,"month":4,"date":18,"utc":true},{"year":2024,"month":5,"date":30,"utc":true}]}},
       "y": {"field": "o", "type": "quantitative", "title": null, "scale": {"domain": [0.7655, 2.738], "nice": false, "zero": false}},
       "y2": {"field": "c"},
       "color": {"condition": {"test": "datum.c >= datum.o", "value": "#f03b3b"}, "value": "#1a9d1a"}
     }},
    {"data": {"name": "k"},
     "mark": {"type": "line", "strokeWidth": 1, "color": "#dc85f2"},
     "encoding": {
       "x": {"field": "d", "type": "temporal", "title": null, "scale": {"type": "utc", "domain": [{"year":2019,"month":4,"date":18,"utc":true},{"year":2024,"month":5,"date":30,"utc":true}]}},
       "y": {"field": "m250", "type": "quantitative", "title": null, "scale": {"domain": [0.7655, 2.738], "nice": false, "zero": false}}
     }},
    {"data": {"name": "k"},
     "mark": {"type": "line", "strokeWidth": 1, "color": "#8fd68f"},
     "encoding": {
       "x": {"field": "d", "type": "temporal", "title": null, "scale": {"type": "utc", "domain": [{"year":2019,"month":4,"date":18,"utc":true},{"year":2024,"month":5,"date":30,"utc":true}]}},
       "y": {"field": "m120", "type": "quantitative", "title": null, "scale": {"domain": [0.7655, 2.738], "nice": false, "zero": false}}
     }},
    {"data": {"name": "k"},
     "mark": {"type": "line", "strokeWidth": 1, "color": "#6fd6ee"},
     "encoding": {
       "x": {"field": "d", "type": "temporal", "title": null, "scale": {"type": "utc", "domain": [{"year":2019,"month":4,"date":18,"utc":true},{"year":2024,"month":5,"date":30,"utc":true}]}},
       "y": {"field": "m60", "type": "quantitative", "title": null, "scale": {"domain": [0.7655, 2.738], "nice": false, "zero": false}}
     }},
    {"data": {"name": "k"},
     "mark": {"type": "line", "strokeWidth": 1, "color": "#4866e6"},
     "encoding": {
       "x": {"field": "d", "type": "temporal", "title": null, "scale": {"type": "utc", "domain": [{"year":2019,"month":4,"date":18,"utc":true},{"year":2024,"month":5,"date":30,"utc":true}]}},
       "y": {"field": "m20", "type": "quantitative", "title": null, "scale": {"domain": [0.7655, 2.738], "nice": false, "zero": false}}
     }},
    {"data": {"name": "k"},
     "mark": {"type": "line", "strokeWidth": 1, "color": "#8ea8e6"},
     "encoding": {
       "x": {"field": "d", "type": "temporal", "title": null, "scale": {"type": "utc", "domain": [{"year":2019,"month":4,"date":18,"utc":true},{"year":2024,"month":5,"date":30,"utc":true}]}},
       "y": {"field": "m10", "type": "quantitative", "title": null, "scale": {"domain": [0.7655, 2.738], "nice": false, "zero": false}}
     }},
    {"data": {"name": "ga"},
     "mark": {"type": "rule", "strokeWidth": 3.5, "color": "#2e7d2e"},
     "encoding": {
       "x": {"field": "d", "type": "temporal", "title": null, "scale": {"type": "utc", "domain": [{"year":2019,"month":4,"date":18,"utc":true},{"year":2024,"month":5,"date":30,"utc":true}]}},
       "x2": {"field": "d2"},
       "y": {"field": "p", "type": "quantitative", "title": null, "scale": {"domain": [0.7655, 2.738], "nice": false, "zero": false}},
       "y2": {"field": "p2"}
     }},
    {"data": {"name": "ga"},
     "mark": {"type": "point", "shape": "triangle", "filled": true, "opacity": 1, "size": 120, "angle": 138.5, "color": "#2e7d2e"},
     "encoding": {
       "x": {"field": "d2", "type": "temporal", "title": null, "scale": {"type": "utc", "domain": [{"year":2019,"month":4,"date":18,"utc":true},{"year":2024,"month":5,"date":30,"utc":true}]}},
       "y": {"field": "p2", "type": "quantitative", "title": null, "scale": {"domain": [0.7655, 2.738], "nice": false, "zero": false}}
     }},
    {"data": {"name": "ra"},
     "mark": {"type": "rule", "strokeWidth": 2, "color": "#ea3a32"},
     "encoding": {
       "x": {"field": "d", "type": "temporal", "title": null, "scale": {"type": "utc", "domain": [{"year":2019,"month":4,"date":18,"utc":true},{"year":2024,"month":5,"date":30,"utc":true}]}},
       "x2": {"field": "d2"},
       "y": {"field": "p", "type": "quantitative", "title": null, "scale": {"domain": [0.7655, 2.738], "nice": false, "zero": false}},
       "y2": {"field": "p2"}
     }},
    {"data": {"name": "ra"},
     "mark": {"type": "point", "shape": "triangle", "filled": true, "opacity": 1, "size": 70, "angle": 58.5, "color": "#ea3a32"},
     "encoding": {
       "x": {"field": "d2", "type": "temporal", "title": null, "scale": {"type": "utc", "domain": [{"year":2019,"month":4,"date":18,"utc":true},{"year":2024,"month":5,"date":30,"utc":true}]}},
       "y": {"field": "p2", "type": "quantitative", "title": null, "scale": {"domain": [0.7655, 2.738], "nice": false, "zero": false}}
     }},
    {"data": {"name": "peak"},
     "mark": {"type": "rule", "strokeWidth": 1, "color": "#7fd0e8", "xOffset": -9},
     "encoding": {
       "x": {"field": "d", "type": "temporal", "title": null, "scale": {"type": "utc", "domain": [{"year":2019,"month":4,"date":18,"utc":true},{"year":2024,"month":5,"date":30,"utc":true}]}},
       "x2": {"field": "d"},
       "y": {"field": "p", "type": "quantitative", "title": null, "scale": {"domain": [0.7655, 2.738], "nice": false, "zero": false}}
     }},
    {"data": {"name": "peak"},
     "mark": {"type": "text", "align": "right", "baseline": "middle", "dx": -10, "fontSize": 9, "color": "#e8302c"},
     "encoding": {
       "x": {"field": "d", "type": "temporal", "title": null, "scale": {"type": "utc", "domain": [{"year":2019,"month":4,"date":18,"utc":true},{"year":2024,"month":5,"date":30,"utc":true}]}},
       "y": {"field": "p", "type": "quantitative", "title": null, "scale": {"domain": [0.7655, 2.738], "nice": false, "zero": false}},
       "text": {"field": "t"}
     }},
    {"data": {"name": "low"},
     "mark": {"type": "text", "align": "right", "baseline": "middle", "dx": -8, "dy": 2, "fontSize": 9, "color": "#2ea12e"},
     "encoding": {
       "x": {"field": "d", "type": "temporal", "title": null, "scale": {"type": "utc", "domain": [{"year":2019,"month":4,"date":18,"utc":true},{"year":2024,"month":5,"date":30,"utc":true}]}},
       "y": {"field": "p", "type": "quantitative", "title": null, "scale": {"domain": [0.7655, 2.738], "nice": false, "zero": false}},
       "text": {"field": "t"}
     }},
    {"data": {"values": [{}]}, "mark": {"type": "text", "text": "□", "x": 622, "y": 21, "align": "center", "baseline": "middle", "fontSize": 11, "color": "#b5b5b5"}},
    {"data": {"values": [{}]}, "mark": {"type": "text", "text": "×", "x": 638, "y": 21, "align": "center", "baseline": "middle", "fontSize": 14, "color": "#b5b5b5"}},
    {"data": {"values": [{}]}, "mark": {"type": "rect", "x": 405, "x2": 610, "y": 48, "y2": 183, "fill": "#ffffff", "stroke": "#cfcfcf", "strokeWidth": 1}},
    {"data": {"values": [{}]}, "mark": {"type": "rect", "x": 405.5, "x2": 609.5, "y": 48.5, "y2": 62, "fill": "#f1f1f1"}},
    {"data": {"values": [{}]}, "mark": {"type": "rect", "x": 411, "x2": 470, "y": 50, "y2": 60, "fill": "#ffffff", "stroke": "#d6d6d6", "strokeWidth": 0.8}},
    {"data": {"values": [{}]}, "mark": {"type": "rect", "x": 490, "x2": 549, "y": 50, "y2": 60, "fill": "#ffffff", "stroke": "#d6d6d6", "strokeWidth": 0.8}},
    {"data": {"values": [{}]}, "mark": {"type": "text", "text": "◂", "x": 406, "y": 55, "align": "left", "baseline": "middle", "fontSize": 7, "color": "#555555"}},
    {"data": {"values": [{}]}, "mark": {"type": "text", "text": "2021-02-10", "x": 413, "y": 55, "align": "left", "baseline": "middle", "fontSize": 9, "color": "#333333"}},
    {"data": {"values": [{}]}, "mark": {"type": "text", "text": "▸", "x": 472, "y": 55, "align": "left", "baseline": "middle", "fontSize": 7, "color": "#555555"}},
    {"data": {"values": [{}]}, "mark": {"type": "text", "text": "-", "x": 480, "y": 55, "align": "left", "baseline": "middle", "fontSize": 9, "color": "#555555"}},
    {"data": {"values": [{}]}, "mark": {"type": "text", "text": "◂", "x": 485, "y": 55, "align": "left", "baseline": "middle", "fontSize": 7, "color": "#555555"}},
    {"data": {"values": [{}]}, "mark": {"type": "text", "text": "2024-05-06", "x": 492, "y": 55, "align": "left", "baseline": "middle", "fontSize": 9, "color": "#333333"}},
    {"data": {"values": [{}]}, "mark": {"type": "text", "text": "▸", "x": 551, "y": 55, "align": "left", "baseline": "middle", "fontSize": 7, "color": "#555555"}},
    {"data": {"values": [{}]}, "mark": {"type": "text", "text": "(779日)", "x": 560, "y": 55, "align": "left", "baseline": "middle", "fontSize": 9, "color": "#555555"}},
    {"data": {"values": [{}]}, "mark": {"type": "text", "text": "×", "x": 603, "y": 55, "align": "center", "baseline": "middle", "fontSize": 12, "color": "#bbbbbb"}},
    {"data": {"values": [{}]}, "mark": {"type": "text", "text": ["涨跌幅","行业对比 ⓘ","涨 跌","收盘价","均 价","振 幅","成交额","成交量","区间换手","日均换手"], "x": 408, "y": 72.5, "lineHeight": 11.9, "align": "left", "baseline": "alphabetic", "fontSize": 9, "color": "#666666"}},
    {"data": {"values": [{}]}, "mark": {"type": "text", "text": ["年化收益率","最大回撤 ⓘ","开盘价","最高价","最低价","阳 线","阴 线","平 线","最大量","最小量"], "x": 510, "y": 72.5, "lineHeight": 11.9, "align": "left", "baseline": "alphabetic", "fontSize": 9, "color": "#666666"}},
    {"data": {"values": [{}]}, "mark": {"type": "text", "text": "-55.96%", "x": 505, "y": 72.5, "align": "right", "baseline": "alphabetic", "fontSize": 9, "color": "#2ea12e"}},
    {"data": {"values": [{}]}, "mark": {"type": "text", "text": "-", "x": 505, "y": 84.4, "align": "right", "baseline": "alphabetic", "fontSize": 9, "color": "#444444"}},
    {"data": {"values": [{}]}, "mark": {"type": "text", "text": "-1.376", "x": 505, "y": 96.3, "align": "right", "baseline": "alphabetic", "fontSize": 9, "color": "#2ea12e"}},
    {"data": {"values": [{}]}, "mark": {"type": "text", "text": "1.083", "x": 505, "y": 108.2, "align": "right", "baseline": "alphabetic", "fontSize": 9, "color": "#2ea12e"}},
    {"data": {"values": [{}]}, "mark": {"type": "text", "text": "1.132", "x": 505, "y": 120.1, "align": "right", "baseline": "alphabetic", "fontSize": 9, "color": "#2ea12e"}},
    {"data": {"values": [{}]}, "mark": {"type": "text", "text": "74.75%", "x": 505, "y": 132.0, "align": "right", "baseline": "alphabetic", "fontSize": 9, "color": "#e8302c"}},
    {"data": {"values": [{}]}, "mark": {"type": "text", "text": "1.05万亿", "x": 505, "y": 143.9, "align": "right", "baseline": "alphabetic", "fontSize": 9, "color": "#444444"}},
    {"data": {"values": [{}]}, "mark": {"type": "text", "text": "92.68亿", "x": 505, "y": 155.8, "align": "right", "baseline": "alphabetic", "fontSize": 9, "color": "#444444"}},
    {"data": {"values": [{}]}, "mark": {"type": "text", "text": "-", "x": 505, "y": 167.7, "align": "right", "baseline": "alphabetic", "fontSize": 9, "color": "#444444"}},
    {"data": {"values": [{}]}, "mark": {"type": "text", "text": "-", "x": 505, "y": 179.6, "align": "right", "baseline": "alphabetic", "fontSize": 9, "color": "#444444"}},
    {"data": {"values": [{}]}, "mark": {"type": "text", "text": "-23.14%", "x": 608, "y": 72.5, "align": "right", "baseline": "alphabetic", "fontSize": 9, "color": "#2ea12e"}},
    {"data": {"values": [{}]}, "mark": {"type": "text", "text": "-69.36%", "x": 608, "y": 84.4, "align": "right", "baseline": "alphabetic", "fontSize": 9, "color": "#2ea12e"}},
    {"data": {"values": [{}]}, "mark": {"type": "text", "text": "2.499", "x": 608, "y": 96.3, "align": "right", "baseline": "alphabetic", "fontSize": 9, "color": "#2ea12e"}},
    {"data": {"values": [{}]}, "mark": {"type": "text", "text": "2.650", "x": 608, "y": 108.2, "align": "right", "baseline": "alphabetic", "fontSize": 9, "color": "#2ea12e"}},
    {"data": {"values": [{}]}, "mark": {"type": "text", "text": "0.812", "x": 608, "y": 120.1, "align": "right", "baseline": "alphabetic", "fontSize": 9, "color": "#2ea12e"}},
    {"data": {"values": [{}]}, "mark": {"type": "text", "text": "308", "x": 608, "y": 132.0, "align": "right", "baseline": "alphabetic", "fontSize": 9, "color": "#e8302c"}},
    {"data": {"values": [{}]}, "mark": {"type": "text", "text": "445", "x": 608, "y": 143.9, "align": "right", "baseline": "alphabetic", "fontSize": 9, "color": "#2ea12e"}},
    {"data": {"values": [{}]}, "mark": {"type": "text", "text": "26", "x": 608, "y": 155.8, "align": "right", "baseline": "alphabetic", "fontSize": 9, "color": "#444444"}},
    {"data": {"values": [{}]}, "mark": {"type": "text", "text": "6681.11万", "x": 608, "y": 167.7, "align": "right", "baseline": "alphabetic", "fontSize": 9, "color": "#444444"}},
    {"data": {"values": [{}]}, "mark": {"type": "text", "text": "132.14万", "x": 608, "y": 179.6, "align": "right", "baseline": "alphabetic", "fontSize": 9, "color": "#444444"}}
  ]
},
{
  "width": 662, "height": 58,
  "layer": [
    {"data": {"name": "k"},
     "mark": {"type": "bar", "width": 3.5},
     "encoding": {
       "x": {"field": "d", "type": "temporal", "title": null,
             "scale": {"type": "utc", "domain": [{"year":2019,"month":4,"date":18,"utc":true},{"year":2024,"month":5,"date":30,"utc":true}]},
             "axis": {"title": null, "format": "%y-%m", "labelAlign": "left", "labelPadding": 4, "labelOverlap": false, "labelFlush": false, "labelBound": false, "grid": true, "domain": true, "domainColor": "#dddddd",
                      "values": [{"year":2019,"month":4,"date":18,"utc":true},{"year":2019,"month":8,"date":1,"utc":true},{"year":2019,"month":11,"date":1,"utc":true},{"year":2020,"month":2,"date":1,"utc":true},{"year":2020,"month":5,"date":1,"utc":true},{"year":2020,"month":8,"date":1,"utc":true},{"year":2020,"month":11,"date":1,"utc":true},{"year":2021,"month":2,"date":1,"utc":true},{"year":2021,"month":5,"date":1,"utc":true},{"year":2021,"month":8,"date":1,"utc":true},{"year":2021,"month":11,"date":1,"utc":true},{"year":2022,"month":2,"date":1,"utc":true},{"year":2022,"month":5,"date":1,"utc":true},{"year":2022,"month":8,"date":1,"utc":true},{"year":2022,"month":11,"date":1,"utc":true},{"year":2023,"month":2,"date":1,"utc":true},{"year":2023,"month":5,"date":1,"utc":true},{"year":2023,"month":8,"date":1,"utc":true},{"year":2023,"month":11,"date":1,"utc":true},{"year":2024,"month":2,"date":1,"utc":true},{"year":2024,"month":5,"date":1,"utc":true}]}},
       "y": {"field": "macd", "type": "quantitative", "title": null,
             "scale": {"domain": [-0.118, 0.208], "nice": false, "zero": false},
             "axis": {"title": null, "orient": "right", "values": [-0.09, 0], "format": ".3f", "grid": true, "labelPadding": 3}},
       "y2": {"datum": 0},
       "color": {"condition": {"test": "datum.macd >= 0", "value": "#f21d1d"}, "value": "#17921a"}
     }},
    {"data": {"name": "k"},
     "mark": {"type": "line", "strokeWidth": 1, "color": "#f0889a"},
     "encoding": {
       "x": {"field": "d", "type": "temporal", "title": null,
             "scale": {"type": "utc", "domain": [{"year":2019,"month":4,"date":18,"utc":true},{"year":2024,"month":5,"date":30,"utc":true}]},
             "axis": {"title": null, "format": "%y-%m", "labelAlign": "left", "labelPadding": 4, "labelOverlap": false, "labelFlush": false, "labelBound": false, "grid": true, "domain": true, "domainColor": "#dddddd",
                      "values": [{"year":2019,"month":4,"date":18,"utc":true},{"year":2019,"month":8,"date":1,"utc":true},{"year":2019,"month":11,"date":1,"utc":true},{"year":2020,"month":2,"date":1,"utc":true},{"year":2020,"month":5,"date":1,"utc":true},{"year":2020,"month":8,"date":1,"utc":true},{"year":2020,"month":11,"date":1,"utc":true},{"year":2021,"month":2,"date":1,"utc":true},{"year":2021,"month":5,"date":1,"utc":true},{"year":2021,"month":8,"date":1,"utc":true},{"year":2021,"month":11,"date":1,"utc":true},{"year":2022,"month":2,"date":1,"utc":true},{"year":2022,"month":5,"date":1,"utc":true},{"year":2022,"month":8,"date":1,"utc":true},{"year":2022,"month":11,"date":1,"utc":true},{"year":2023,"month":2,"date":1,"utc":true},{"year":2023,"month":5,"date":1,"utc":true},{"year":2023,"month":8,"date":1,"utc":true},{"year":2023,"month":11,"date":1,"utc":true},{"year":2024,"month":2,"date":1,"utc":true},{"year":2024,"month":5,"date":1,"utc":true}]}},
       "y": {"field": "dea", "type": "quantitative", "title": null, "scale": {"domain": [-0.118, 0.208], "nice": false, "zero": false}}
     }},
    {"data": {"name": "k"},
     "mark": {"type": "line", "strokeWidth": 1, "color": "#555555"},
     "encoding": {
       "x": {"field": "d", "type": "temporal", "title": null,
             "scale": {"type": "utc", "domain": [{"year":2019,"month":4,"date":18,"utc":true},{"year":2024,"month":5,"date":30,"utc":true}]},
             "axis": {"title": null, "format": "%y-%m", "labelAlign": "left", "labelPadding": 4, "labelOverlap": false, "labelFlush": false, "labelBound": false, "grid": true, "domain": true, "domainColor": "#dddddd",
                      "values": [{"year":2019,"month":4,"date":18,"utc":true},{"year":2019,"month":8,"date":1,"utc":true},{"year":2019,"month":11,"date":1,"utc":true},{"year":2020,"month":2,"date":1,"utc":true},{"year":2020,"month":5,"date":1,"utc":true},{"year":2020,"month":8,"date":1,"utc":true},{"year":2020,"month":11,"date":1,"utc":true},{"year":2021,"month":2,"date":1,"utc":true},{"year":2021,"month":5,"date":1,"utc":true},{"year":2021,"month":8,"date":1,"utc":true},{"year":2021,"month":11,"date":1,"utc":true},{"year":2022,"month":2,"date":1,"utc":true},{"year":2022,"month":5,"date":1,"utc":true},{"year":2022,"month":8,"date":1,"utc":true},{"year":2022,"month":11,"date":1,"utc":true},{"year":2023,"month":2,"date":1,"utc":true},{"year":2023,"month":5,"date":1,"utc":true},{"year":2023,"month":8,"date":1,"utc":true},{"year":2023,"month":11,"date":1,"utc":true},{"year":2024,"month":2,"date":1,"utc":true},{"year":2024,"month":5,"date":1,"utc":true}]}},
       "y": {"field": "dif", "type": "quantitative", "title": null, "scale": {"domain": [-0.118, 0.208], "nice": false, "zero": false}}
     }},
    {"data": {"values": [{}]}, "mark": {"type": "rect", "x": 1, "x2": 9, "y": 1.5, "y2": 10.5, "fill": "#ffffff", "stroke": "#c8c8c8", "strokeWidth": 0.8}},
    {"data": {"values": [{}]}, "mark": {"type": "text", "text": "?", "x": 5, "y": 6, "align": "center", "baseline": "middle", "fontSize": 8, "color": "#555555"}},
    {"data": {"values": [{}]}, "mark": {"type": "text", "text": "MACD(12,26,9)", "x": 12, "y": 6, "align": "left", "baseline": "middle", "fontSize": 8, "color": "#333333"}},
    {"data": {"values": [{}]}, "mark": {"type": "text", "text": "DIF: 0.0299", "x": 69, "y": 6, "align": "left", "baseline": "middle", "fontSize": 8, "color": "#333333"}},
    {"data": {"values": [{}]}, "mark": {"type": "text", "text": "DEA: 0.0175", "x": 112, "y": 6, "align": "left", "baseline": "middle", "fontSize": 8, "color": "#e8305a"}},
    {"data": {"values": [{}]}, "mark": {"type": "text", "text": "MACD: 0.0247", "x": 158, "y": 6, "align": "left", "baseline": "middle", "fontSize": 8, "color": "#2aa52a"}}
  ]
}
]
}
